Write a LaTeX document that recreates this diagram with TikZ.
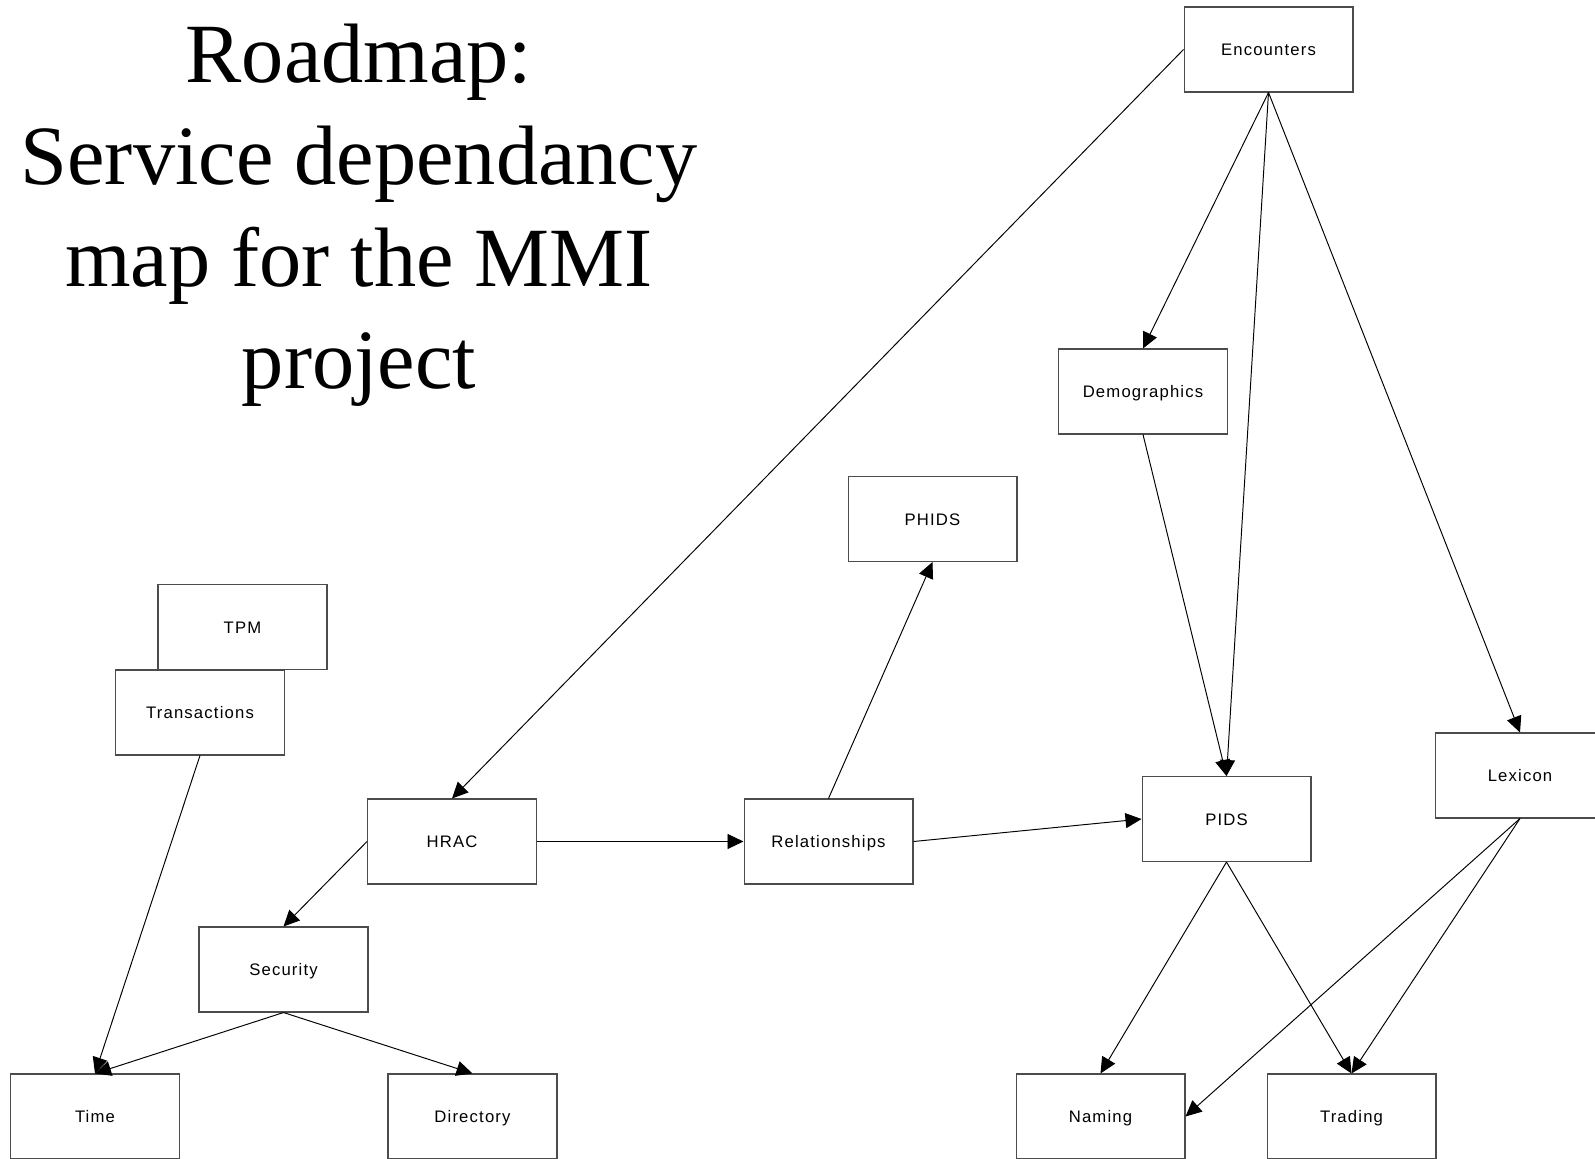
\documentclass[tikz,border=0pt]{standalone}
\usepackage{fontspec}
\setmainfont{Liberation Serif}
\newfontfamily\boxfont[LetterSpace=7]{Liberation Sans}
\usetikzlibrary{arrows.meta}

\begin{document}
\begin{tikzpicture}[
    x=0.02cm, y=-0.02cm,
    service/.style={draw=black!70, line width=0.6pt, fill=white, minimum width=3.38cm, minimum height=1.7cm,
        inner sep=0pt, text height=7pt, text depth=0pt, font=\boxfont\fontsize{9.5}{11}\selectfont},
    arrow/.style={-{Triangle[length=0.32cm, width=0.3cm]}, line width=0.55pt},
    title/.style={align=center, inner sep=0pt, font=\fontsize{48}{58}\selectfont}
]
    \useasboundingbox (0, 0) rectangle (1595, 1159);
    \clip (0, 0) rectangle (1595, 1159);

    % ==========================================
    % Title
    % ==========================================
    \node[title, anchor=north] (heading) at (359, 24)
        {Roadmap:\\Service dependancy\\map for the MMI\\project};

    % ==========================================
    % Services
    % ==========================================
    \node[service] (enc) at (1268.5, 49.5) {Encounters};
    \node[service] (demo) at (1143, 391.5) {Demographics};
    \node[service] (phids) at (932.5, 519) {PHIDS};
    \node[service] (tpm) at (242.5, 627) {TPM};
    \node[service] (trans) at (200, 712.5) {Transactions};
    \node[service] (lex) at (1520, 775.5) {Lexicon};
    \node[service] (pids) at (1226.5, 819) {PIDS};
    \node[service] (hrac) at (452, 841.5) {HRAC};
    \node[service] (rel) at (828.5, 841.5) {Relationships};
    \node[service] (sec) at (283.5, 969.5) {Security};

    % bottom row
    \node[service] (time) at (95, 1116.5) {Time};
    \node[service] (dir) at (472.5, 1116.5) {Directory};
    \node[service] (naming) at (1100.5, 1116.5) {Naming};
    \node[service] (trading) at (1351.5, 1116.5) {Trading};

    % ==========================================
    % Dependencies
    % ==========================================
    % from Encounters
    \draw[arrow] (enc.west) -- (hrac.north);
    \draw[arrow] (enc.south) -- (demo.north);
    \draw[arrow] (enc.south) -- (pids.north);
    \draw[arrow] (enc.south) -- (lex.north);
    \draw[arrow] (demo.south) -- (pids.north);

    % HRAC and Relationships
    \draw[arrow] (hrac.east) -- (rel.west);
    \draw[arrow] (rel.north) -- (phids.south);
    \draw[arrow] (rel.east) -- (pids.west);
    \draw[arrow] (hrac.west) -- (sec.north);

    % Transactions and Security
    \draw[arrow] (trans.south) -- (time.north);
    \draw[arrow] (sec.south) -- (time.north);
    \draw[arrow] (sec.south) -- (dir.north);

    % PIDS and Lexicon
    \draw[arrow] (pids.south) -- (naming.north);
    \draw[arrow] (pids.south) -- (trading.north);
    \draw[arrow] (lex.south) -- (naming.east);
    \draw[arrow] (lex.south) -- (trading.north);

\end{tikzpicture}
\end{document}
